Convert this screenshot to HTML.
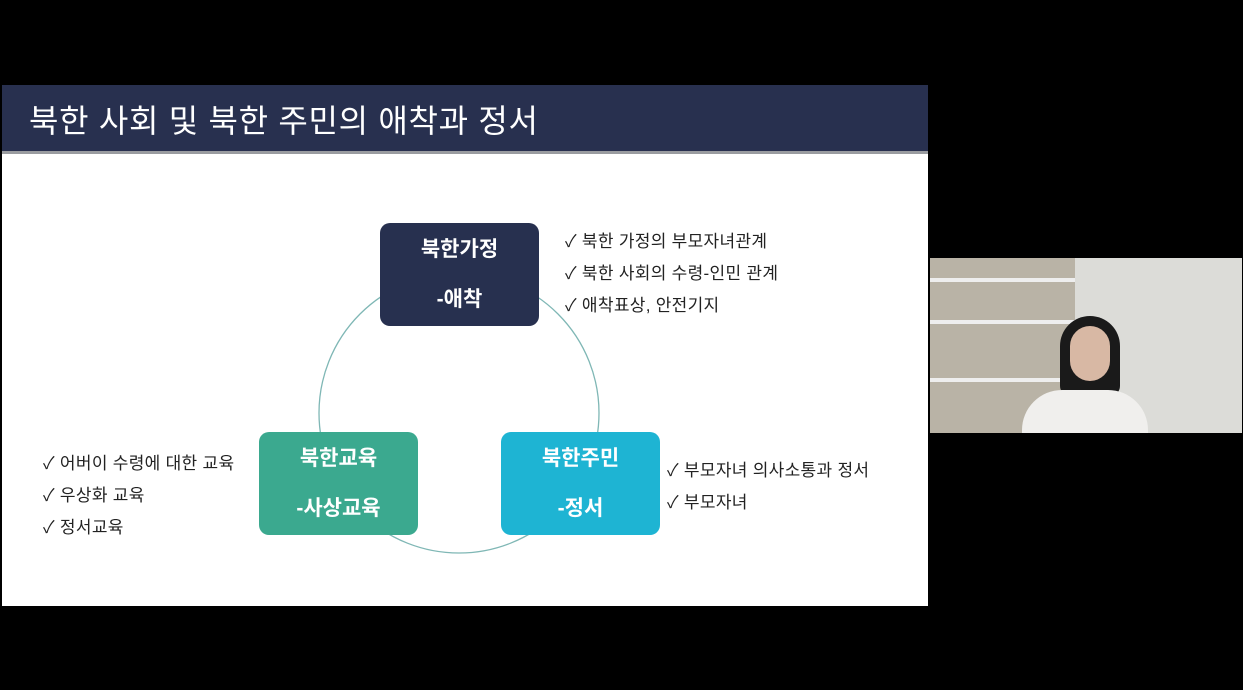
<!DOCTYPE html>
<html><head><meta charset="utf-8"><style>
body{margin:0;width:1243px;height:690px;background:#000;position:relative;overflow:hidden;font-family:"Liberation Sans","Noto Sans CJK KR",sans-serif}
.slide{position:absolute;left:2px;top:85px;width:926px;height:521px;background:#fff}
.hdr{position:absolute;left:0;top:0;width:926px;height:66px;background:#28304f;border-bottom:3px solid #9a9ca0}
.hdr span{position:absolute;left:27px;top:11px;color:#fff;font-size:32px;letter-spacing:0.7px}
.box{position:absolute;width:159px;height:103px;border-radius:10px;color:#fff;font-weight:bold;font-size:21px;text-align:center;line-height:50px;box-sizing:border-box;padding-top:2px}
.t{position:absolute;font-size:17px;color:#222;line-height:32px;letter-spacing:0.3px}
.cam{position:absolute;left:930px;top:258px;width:312px;height:175px;background:#d9d8d2;overflow:hidden}
</style></head><body>
<div class="slide">
<div class="hdr"><span>북한 사회 및 북한 주민의 애착과 정서</span></div>
</div>
<svg style="position:absolute;left:0;top:0" width="1243" height="690"><circle cx="459" cy="413" r="140" fill="none" stroke="#7fb7b5" stroke-width="1.3"/></svg>
<div class="box" style="left:380px;top:223px;background:#27304f">북한가정<br>-애착</div>
<div class="box" style="left:259px;top:432px;background:#3ba98f">북한교육<br>-사상교육</div>
<div class="box" style="left:501px;top:432px;background:#1eb4d3">북한주민<br>-정서</div>
<div class="t" style="left:565px;top:226px">✓ 북한 가정의 부모자녀관계<br>✓ 북한 사회의 수령-인민 관계<br>✓ 애착표상, 안전기지</div>
<div class="t" style="left:43px;top:448px">✓ 어버이 수령에 대한 교육<br>✓ 우상화 교육<br>✓ 정서교육</div>
<div class="t" style="left:667px;top:455px">✓ 부모자녀 의사소통과 정서<br>✓ 부모자녀</div>
<div class="cam">
<div style="position:absolute;left:0;top:0;width:145px;height:175px;background:#b9b3a6"></div>
<div style="position:absolute;left:0;top:20px;width:145px;height:4px;background:#eee"></div>
<div style="position:absolute;left:0;top:62px;width:145px;height:4px;background:#eee"></div>
<div style="position:absolute;left:0;top:120px;width:145px;height:4px;background:#eee"></div>
<div style="position:absolute;left:145px;top:0;width:167px;height:175px;background:#dcdcd8"></div>
<div style="position:absolute;left:130px;top:58px;width:60px;height:80px;border-radius:30px 30px 10px 10px;background:#1a1a1a"></div>
<div style="position:absolute;left:140px;top:68px;width:40px;height:55px;border-radius:20px;background:#d8b8a4"></div>
<div style="position:absolute;left:92px;top:132px;width:126px;height:60px;border-radius:40px 40px 0 0;background:#f0efed"></div>
</div>
</body></html>
